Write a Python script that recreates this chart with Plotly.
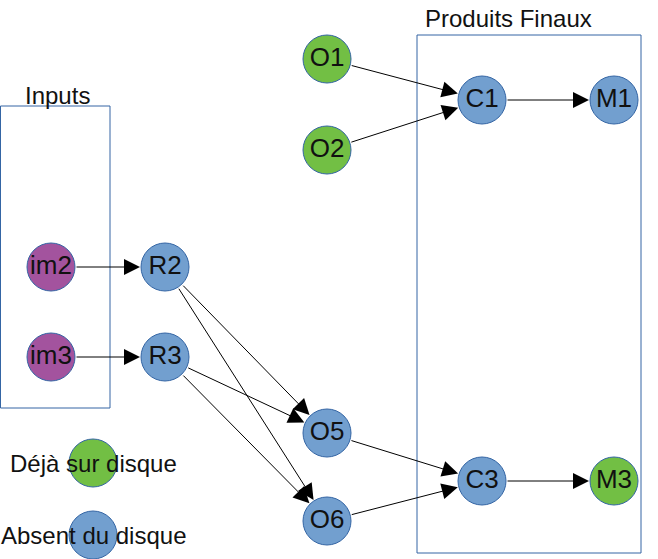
import plotly.graph_objects as go

# ----------------------------------------------------------
# Diagram data
# ----------------------------------------------------------

node_names = ["O1", "O2", "C1", "M1", "im2", "im3", "R2", "R3",
              "O5", "O6", "C3", "M3"]
node_x = [327, 327, 482, 614, 51, 51, 165, 165, 327, 327, 482, 614]
node_y = [59, 150, 100, 100, 267, 357, 267, 357, 433, 521, 481, 481]
node_kind = ["disk", "disk", "absent", "absent", "input", "input",
             "absent", "absent", "absent", "absent", "absent", "disk"]

edges = [("O1", "C1"), ("O2", "C1"), ("C1", "M1"),
         ("im2", "R2"), ("im3", "R3"),
         ("R2", "O5"), ("R2", "O6"), ("R3", "O5"), ("R3", "O6"),
         ("O5", "C3"), ("O6", "C3"), ("C3", "M3")]

legend_labels = ["Déjà sur disque", "Absent du disque"]
legend_kind = ["disk", "absent"]
legend_x = [93, 93]
legend_y = [463, 535]

colors = {"disk": "#72bf44", "absent": "#729fcf", "input": "#a3539e"}

W, H = 658, 559

fig = go.Figure()

# group boxes
fig.add_shape(type="rect", x0=0.5, y0=106, x1=110, y1=408,
              line=dict(color="#3465a4", width=1))
fig.add_shape(type="rect", x0=417, y0=35, x1=641, y1=553,
              line=dict(color="#3465a4", width=1))

fig.add_annotation(x=57, y=95, text="Inputs", showarrow=False,
                   font=dict(size=24, color="#111111"))
fig.add_annotation(x=508, y=18, text="Produits Finaux", showarrow=False,
                   font=dict(size=24, color="#111111"))

# nodes
fig.add_trace(go.Scatter(
    x=node_x, y=node_y, mode="markers+text",
    text=node_names, textposition="middle center",
    textfont=dict(size=26, color="#111111",
                  family="Liberation Sans, Arial"),
    marker=dict(size=48, color=[colors[k] for k in node_kind],
                line=dict(color="#3465a4", width=1)),
    hoverinfo="text", showlegend=False
))

# legend circles
fig.add_trace(go.Scatter(
    x=legend_x, y=legend_y, mode="markers",
    marker=dict(size=48, color=[colors[k] for k in legend_kind],
                line=dict(color="#3465a4", width=1)),
    hoverinfo="skip", showlegend=False
))

for label, lx, ly in zip(legend_labels, legend_x, legend_y):
    fig.add_annotation(x=lx, y=ly, text=label, showarrow=False,
                       font=dict(size=24, color="#111111"))

# arrows
pos = {n: (x, y) for n, x, y in zip(node_names, node_x, node_y)}
for src, dst in edges:
    sx, sy = pos[src]
    dx, dy = pos[dst]
    fig.add_annotation(
        x=dx, y=dy, ax=sx, ay=sy, xref="x", yref="y",
        axref="x", ayref="y", text="", showarrow=True,
        arrowhead=2, arrowsize=3.2, arrowwidth=1, arrowcolor="#000000",
        standoff=25, startstandoff=24
    )

fig.update_layout(
    width=W, height=H,
    margin=dict(l=0, r=0, t=0, b=0),
    plot_bgcolor="white", paper_bgcolor="white",
    font=dict(family="Liberation Sans, Arial"),
    xaxis=dict(range=[0, W], visible=False, fixedrange=True),
    yaxis=dict(range=[H, 0], visible=False, fixedrange=True),
)

fig.write_html(
    "out.html",
    config={"displayModeBar": False},
    post_script="document.body.style.margin='0';"
                "document.body.style.overflow='hidden';"
)
